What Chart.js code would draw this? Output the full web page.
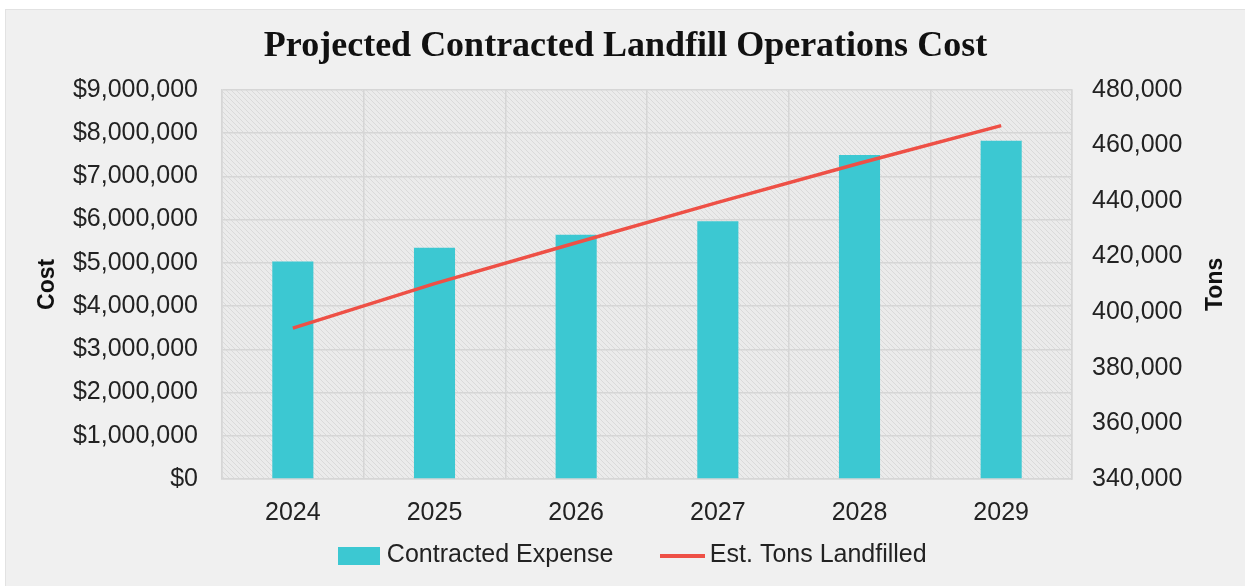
<!DOCTYPE html>
<html>
<head>
<meta charset="utf-8">
<script src="https://cdn.jsdelivr.net/npm/chart.js@4.4.1/dist/chart.umd.min.js"></script>
<style>
  html, body { margin: 0; padding: 0; background: #ffffff; }
  #frame { position: absolute; left: 5px; top: 9px; width: 1240px; height: 577px;
           background: #f0f0f0; border-left: 1px solid #e2e2e2; border-top: 1px solid #e2e2e2; box-sizing: border-box; }
  #frame canvas { position: absolute; left: 0; top: 0; }
</style>
</head>
<body>
<div id="frame"><canvas id="c" width="1239" height="576"></canvas></div>
<script>
// ---- data ----
const years = ['2024', '2025', '2026', '2027', '2028', '2029'];
const contractedExpense = [5030000, 5350000, 5650000, 5960000, 7490000, 7820000];
const estTonsLandfilled = [394300, 410300, 425000, 439500, 453600, 467100];
const costTicks = [0, 1000000, 2000000, 3000000, 4000000, 5000000, 6000000, 7000000, 8000000, 9000000];
const tonTicks = [340000, 360000, 380000, 400000, 420000, 440000, 460000, 480000];
const titleText = 'Projected Contracted Landfill Operations Cost';
const seriesNames = ['Contracted Expense', 'Est. Tons Landfilled'];
const axisTitles = ['Cost', 'Tons'];

const TEAL = '#3cc8d2';
const RED = '#ee5046';
const SANS = '"Liberation Sans", Arial, sans-serif';

// hatch pattern for plot area
function makePattern(ctx) {
  const p = document.createElement('canvas');
  p.width = 5; p.height = 5;
  const g = p.getContext('2d');
  g.fillStyle = '#ebebeb';
  g.fillRect(0, 0, 5, 5);
  g.strokeStyle = '#dadada';
  g.lineWidth = 1;
  g.beginPath();
  g.moveTo(-1, -1); g.lineTo(6, 6);
  g.moveTo(-1, 4); g.lineTo(1, 6);
  g.moveTo(4, -1); g.lineTo(6, 1);
  g.stroke();
  return ctx.createPattern(p, 'repeat');
}

function legendImg(kind) {
  const c = document.createElement('canvas');
  if (kind === 'bar') {
    c.width = 42; c.height = 18;
    const g = c.getContext('2d');
    g.fillStyle = TEAL; g.fillRect(0, 0, 42, 18);
  } else {
    c.width = 45; c.height = 4;
    const g = c.getContext('2d');
    g.fillStyle = RED; g.fillRect(0, 0, 45, 4);
  }
  return c;
}
const legendImages = [legendImg('bar'), legendImg('line')];

const plotBg = {
  id: 'plotBg',
  beforeDraw(chart) {
    const {ctx, chartArea: a} = chart;
    ctx.save();
    ctx.fillStyle = makePattern(ctx);
    ctx.fillRect(a.left, a.top, a.right - a.left, a.bottom - a.top);
    ctx.restore();
  }
};

// keep the legend box short but its items widely spaced
const LEGEND_BOX_H = 52;
const LEGEND_SHIFT = { x: 10, y: -39 };
const legendTweak = {
  id: 'legendTweak',
  beforeUpdate(chart) {
    const lg = chart.legend;
    if (lg && !lg._tweaked) {
      const origFit = lg.fit.bind(lg);
      lg.fit = function () { origFit(); this.height = LEGEND_BOX_H; };
      const origDraw = lg.draw.bind(lg);
      lg.draw = function () {
        const t = this.top, l = this.left, r = this.right;
        this.top = t + LEGEND_SHIFT.y;
        this.left = l + LEGEND_SHIFT.x;
        this.right = r + LEGEND_SHIFT.x;
        origDraw();
        this.top = t; this.left = l; this.right = r;
      };
      lg._tweaked = true;
    }
  }
};

// right axis title, rotated to read bottom-up like the left one
const rightTitle = {
  id: 'rightTitle',
  afterDraw(chart) {
    const {ctx, chartArea: a} = chart;
    const s = chart.scales.yTons;
    ctx.save();
    ctx.font = 'bold 23px ' + SANS;
    ctx.fillStyle = '#111111';
    ctx.textAlign = 'center';
    ctx.textBaseline = 'middle';
    ctx.translate(s.right - 29, (a.top + a.bottom) / 2);
    ctx.rotate(-Math.PI / 2);
    ctx.fillText(axisTitles[1], 0, 0);
    ctx.restore();
  }
};

const fmtMoney = v => '$' + Number(v).toLocaleString('en-US');
const fmtNum = v => Number(v).toLocaleString('en-US');

new Chart(document.getElementById('c'), {
  data: {
    labels: years,
    datasets: [
      {
        type: 'line',
        label: seriesNames[1],
        data: estTonsLandfilled,
        yAxisID: 'yTons',
        borderColor: RED,
        backgroundColor: RED,
        borderWidth: 3.5,
        pointRadius: 0,
        tension: 0,
        order: 0
      },
      {
        type: 'bar',
        label: seriesNames[0],
        data: contractedExpense,
        yAxisID: 'yCost',
        backgroundColor: TEAL,
        borderWidth: 0,
        categoryPercentage: 1.0,
        barPercentage: 0.29,
        order: 1
      }
    ]
  },
  options: {
    responsive: false,
    animation: false,
    layout: { padding: { top: 15, left: 0, right: 0, bottom: 6 } },
    plugins: {
      title: {
        display: true,
        text: titleText,
        color: '#111111',
        font: { family: '"Liberation Serif", "DejaVu Serif", serif', size: 36, weight: 'bold' },
        padding: { top: 0, bottom: 21.6 }
      },
      legend: {
        position: 'bottom',
        reverse: true,
        labels: {
          color: '#222222',
          font: { family: SANS, size: 25 },
          usePointStyle: true,
          pointStyleWidth: 30,
          boxHeight: 25,
          padding: 54,
          generateLabels(chart) {
            const items = Chart.defaults.plugins.legend.labels.generateLabels(chart);
            items.forEach(it => {
              it.pointStyle = it.datasetIndex === 1 ? legendImages[0] : legendImages[1];
            });
            return items;
          }
        }
      },
      tooltip: { enabled: false }
    },
    scales: {
      x: {
        afterFit(scale) { scale.height = 49; },
        grid: { color: '#d6d6d6', lineWidth: 1.5, drawTicks: false, offset: true },
        border: { display: true, color: '#d6d6d6', width: 1.5 },
        ticks: { color: '#222222', font: { family: SANS, size: 25 }, padding: 19 }
      },
      yCost: {
        position: 'left',
        min: 0, max: 9000000,
        afterBuildTicks(scale) { scale.ticks = costTicks.map(v => ({ value: v })); },
        afterFit(scale) { scale.width = 216; },
        grid: { color: '#d6d6d6', lineWidth: 1.5, drawTicks: false },
        border: { display: true, color: '#d6d6d6', width: 1.5 },
        ticks: { color: '#222222', font: { family: SANS, size: 25 }, padding: 24, callback: fmtMoney },
        title: { display: true, text: axisTitles[0], color: '#111111', font: { family: SANS, size: 23, weight: 'bold' }, padding: { top: 28, bottom: 0 } }
      },
      yTons: {
        position: 'right',
        min: 340000, max: 480000,
        afterBuildTicks(scale) { scale.ticks = tonTicks.map(v => ({ value: v })); },
        afterFit(scale) { scale.width = 173; },
        grid: { display: false, drawTicks: false },
        border: { display: true, color: '#d6d6d6', width: 1.5 },
        ticks: { color: '#222222', font: { family: SANS, size: 25 }, padding: 20, callback: fmtNum }
      }
    }
  },
  plugins: [plotBg, legendTweak, rightTitle]
});
</script>
</body>
</html>
